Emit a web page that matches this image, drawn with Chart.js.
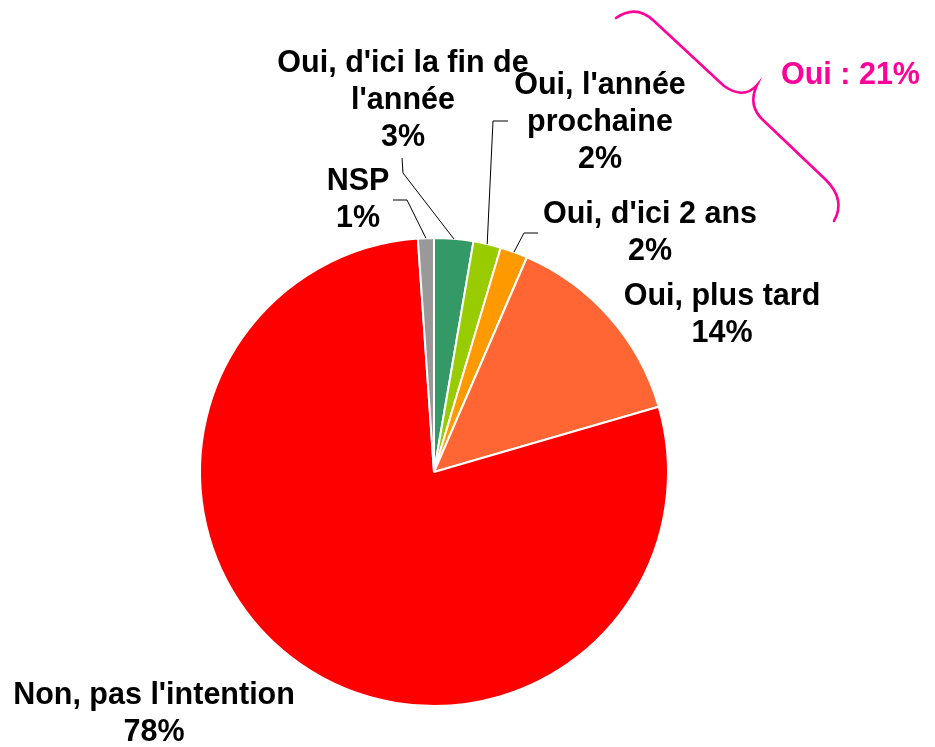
<!DOCTYPE html>
<html>
<head>
<meta charset="utf-8">
<script src="https://cdn.jsdelivr.net/npm/chart.js@4/dist/chart.umd.min.js"></script>
<style>
  html, body { margin: 0; padding: 0; background: #fff; }
  #wrap { width: 935px; height: 747px; }
</style>
</head>
<body>
<div id="wrap"><canvas id="pie-chart" width="935" height="747"></canvas></div>
<script>
// data (clockwise from the top)
const categories = ["Oui, d'ici la fin de l'année", "Oui, l'année prochaine", "Oui, d'ici 2 ans", "Oui, plus tard", "Non, pas l'intention", "NSP"];
const values = [2.7, 1.9, 1.9, 14.0, 78.4, 1.1];
const percentLabels = ['3%', '2%', '2%', '14%', '78%', '1%'];
const labelLines = [["Oui, d'ici la fin de", "l'année"], ["Oui, l'année", "prochaine"], ["Oui, d'ici 2 ans"], ["Oui, plus tard"], ["Non, pas l'intention"], ["NSP"]];
const ouiTotal = 'Oui : 21%';

const sliceColors = ['#339966', '#99cc00', '#ff9900', '#ff6633', '#ff0000', '#999999'];
const pink = '#ff0099';
const fontFamily = '"Liberation Sans", Arial, sans-serif';
const lineH = 37;

// where each label block sits (centre of first line) and the elbow of its leader line
const labelLayout = [
  { x: 403, y: 64, leader: [[402, 158], [403, 173]] },
  { x: 600, y: 86, leader: [[508, 121], [493, 121]] },
  { x: 650, y: 215, leader: [[538, 233], [524, 233]] },
  { x: 722, y: 297, leader: null },
  { x: 154, y: 696, leader: null },
  { x: 358, y: 182, leader: [[393, 200], [407, 200]] }
];

const labelsPlugin = {
  id: 'pieLabels',
  afterDatasetsDraw(chart) {
    const ctx = chart.ctx;
    const arcs = chart.getDatasetMeta(0).data;
    ctx.save();
    // leader lines to the middle of each slice's outer edge
    ctx.strokeStyle = '#000';
    ctx.lineWidth = 1;
    arcs.forEach((arc, i) => {
      const lay = labelLayout[i];
      if (!lay.leader) return;
      const mid = (arc.startAngle + arc.endAngle) / 2;
      const ex = arc.x + Math.cos(mid) * arc.outerRadius;
      const ey = arc.y + Math.sin(mid) * arc.outerRadius;
      ctx.beginPath();
      ctx.moveTo(lay.leader[0][0], lay.leader[0][1]);
      for (let k = 1; k < lay.leader.length; k++) ctx.lineTo(lay.leader[k][0], lay.leader[k][1]);
      ctx.lineTo(ex, ey);
      ctx.stroke();
    });
    // text
    ctx.fillStyle = '#000';
    ctx.font = 'bold 30.5px ' + fontFamily;
    ctx.textAlign = 'center';
    ctx.textBaseline = 'middle';
    labelLines.forEach((lines, i) => {
      const lay = labelLayout[i];
      const all = lines.concat([percentLabels[i]]);
      all.forEach((t, k) => ctx.fillText(t, lay.x, lay.y + k * lineH));
    });

    // pink brace grouping the "Oui" slices
    ctx.strokeStyle = pink;
    ctx.lineWidth = 2.6;
    ctx.lineCap = 'round';
    ctx.beginPath();
    ctx.moveTo(616, 18);
    ctx.quadraticCurveTo(636, 4, 654, 21);
    ctx.lineTo(724, 86);
    ctx.quadraticCurveTo(744, 100, 757, 85);
    ctx.quadraticCurveTo(747, 106, 764, 121);
    ctx.lineTo(826, 180);
    ctx.quadraticCurveTo(846, 200, 834, 221);
    ctx.stroke();

    ctx.fillStyle = pink;
    ctx.font = 'bold 30.5px ' + fontFamily;
    ctx.textAlign = 'left';
    ctx.fillText(ouiTotal, 781, 76);
    ctx.restore();
  }
};

const ctx = document.getElementById('pie-chart').getContext('2d');
new Chart(ctx, {
  type: 'pie',
  data: {
    labels: categories,
    datasets: [{
      data: values,
      backgroundColor: sliceColors,
      borderColor: '#ffffff',
      borderWidth: 2
    }]
  },
  options: {
    responsive: false,
    animation: false,
    layout: { padding: { left: 199, right: 266, top: 237, bottom: 40 } },
    plugins: {
      legend: { display: false },
      tooltip: { enabled: false }
    }
  },
  plugins: [labelsPlugin]
});
</script>
</body>
</html>
